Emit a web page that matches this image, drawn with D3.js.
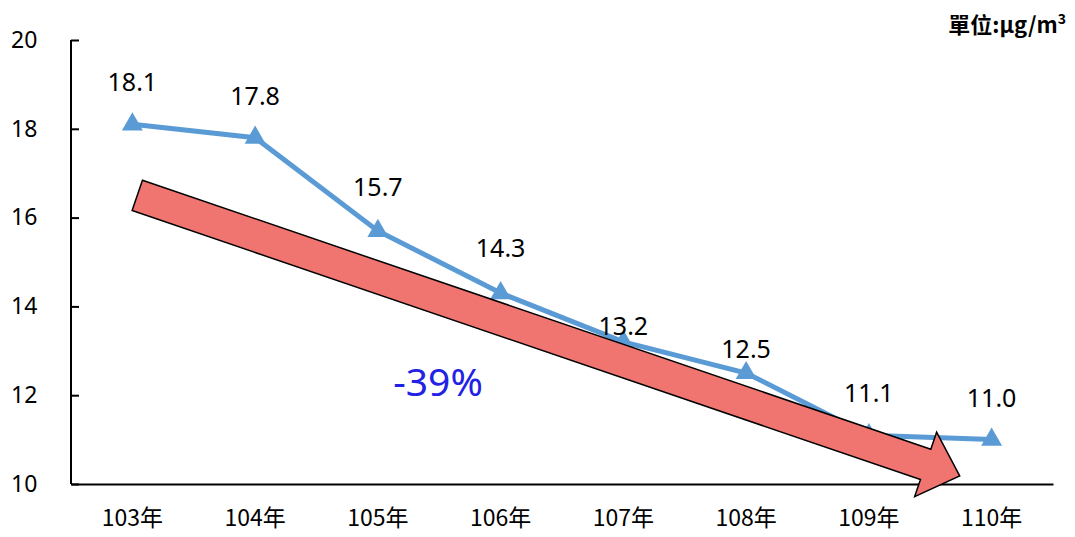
<!DOCTYPE html>
<html><head><meta charset="utf-8">
<script src="https://cdn.jsdelivr.net/npm/d3@7"></script>
<style>body{margin:0;background:#fff}svg{display:block}text{font-family:"Noto Sans CJK TC","Noto Sans",sans-serif}</style>
</head><body>
<script>
const categories = ["103年","104年","105年","106年","107年","108年","109年","110年"];
const values = [18.1, 17.8, 15.7, 14.3, 13.2, 12.5, 11.1, 11.0];
const yTicks = [10, 12, 14, 16, 18, 20];
const unitLabel = "單位:μg/m";
const changeLabel = "-39%";
// arrow annotation in data space: [category index, value]
const arrowStart = [0.04, 16.5];
const arrowEnd = [6.74, 10.18];
// label lift above each point (px), as placed in the original
const labelLift = [33, 33, 35, 36, 7, 15, 33, 33];

const W = 1075, H = 537;
const m = {left: 71, right: 22, top: 40, bottom: 53};
const svg = d3.select("body").append("svg").attr("width", W).attr("height", H);

const x = d3.scaleBand().domain(categories).range([m.left, W - m.right]);
const xi = d3.scaleLinear().domain([0, 1]).range([x(categories[0]) + x.bandwidth()/2, x(categories[1]) + x.bandwidth()/2]);
const y = d3.scaleLinear().domain([10, 20]).range([H - m.bottom, m.top]);

// y axis
const ya = svg.append("g").attr("transform", `translate(${m.left},0)`)
  .call(d3.axisLeft(y).tickValues(yTicks).tickSize(-8).tickPadding(32));
ya.select(".domain").remove();
ya.append("line").attr("x1",0).attr("x2",0).attr("y1",y(20)).attr("y2",y(10)).attr("stroke","#000").attr("stroke-width",2);
ya.selectAll(".tick line").attr("stroke","#000").attr("stroke-width",2);
ya.selectAll(".tick text").attr("font-size",23).attr("fill","#000").attr("text-anchor","start").attr("x",-60)
  .style("font-family",'"Noto Sans","Noto Sans CJK TC",sans-serif');

// x axis
const xa = svg.append("g").attr("transform", `translate(0,${y(10)})`)
  .call(d3.axisBottom(x).tickSize(0).tickPadding(26));
xa.select(".domain").attr("stroke","#000").attr("stroke-width",2);
xa.selectAll(".tick text").attr("font-size",23).attr("fill","#000");

// line
const line = d3.line().x((d,i)=>x(categories[i]) + x.bandwidth()/2).y(d=>y(d));
svg.append("path").datum(values).attr("d", line).attr("fill","none").attr("stroke","#5B9BD5").attr("stroke-width",5);

// markers
const tri = d3.symbol().type(d3.symbolTriangle).size(190);
svg.selectAll(".mk").data(values).join("path")
  .attr("transform",(d,i)=>`translate(${x(categories[i]) + x.bandwidth()/2},${y(d)})`)
  .attr("d", tri).attr("fill","#5B9BD5");

// arrow
const x0 = xi(arrowStart[0]), y0 = y(arrowStart[1]), x1 = xi(arrowEnd[0]), y1 = y(arrowEnd[1]);
const ang = Math.atan2(y1 - y0, x1 - x0) * 180 / Math.PI;
const len = Math.hypot(x1 - x0, y1 - y0);
const bw = 16, hw = 34, hl = 36;
const pts = [[0,-bw],[len-hl,-bw],[len-hl,-hw],[len,0],[len-hl,hw],[len-hl,bw],[0,bw]];
svg.append("path")
  .attr("transform",`translate(${x0},${y0}) rotate(${ang})`)
  .attr("d","M"+pts.map(p=>p.join(",")).join("L")+"Z")
  .attr("fill","#F07470").attr("stroke","#000").attr("stroke-width",1.5).attr("stroke-linejoin","miter");

// value labels
svg.selectAll(".vl").data(values).join("text")
  .attr("x",(d,i)=>x(categories[i]) + x.bandwidth()/2)
  .attr("y",(d,i)=>y(d) - labelLift[i])
  .attr("text-anchor","middle").attr("font-size",25).attr("fill","#000")
  .style("font-family",'"Noto Sans","Noto Sans CJK TC",sans-serif')
  .text(d=>d.toFixed(1));

// -39%
svg.append("text").attr("x", xi(2.49)).attr("y", y(11.98))
  .attr("text-anchor","middle").attr("font-size",39).attr("fill","#2222E6")
  .style("font-family",'"Noto Sans","Noto Sans CJK TC",sans-serif')
  .text(changeLabel);

// unit
const ut = svg.append("text").attr("x", W - 9).attr("y", 33).attr("text-anchor","end")
  .attr("font-size",22).attr("font-weight","bold").attr("fill","#000");
ut.append("tspan").text(unitLabel);
ut.append("tspan").attr("font-size",14).attr("dy",-9).text("3");
</script>
</body></html>
